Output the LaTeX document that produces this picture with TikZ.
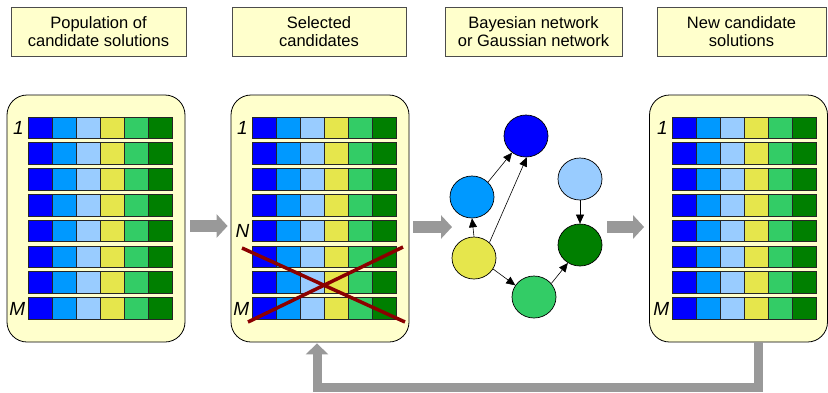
\documentclass[tikz,border=0pt]{standalone}
\usepackage{fontspec}
\setmainfont{Liberation Sans}
\usetikzlibrary{arrows.meta,shapes.geometric}
\definecolor{boxfill}{HTML}{FFFFCC}
\definecolor{cA}{HTML}{0000FF}
\definecolor{cB}{HTML}{0099FF}
\definecolor{cC}{HTML}{99CCFF}
\definecolor{cD}{HTML}{E6E64C}
\definecolor{cE}{HTML}{33CC66}
\definecolor{cF}{HTML}{007F00}
\definecolor{arrowgray}{HTML}{999999}
\definecolor{crossred}{HTML}{8B0000}
\begin{document}
\begin{tikzpicture}[x=1pt,y=-1pt,
  titlebox/.style={draw=black!70, fill=boxfill, line width=0.8pt, minimum height=49pt, inner sep=0pt, align=center, font=\fontsize{16.5}{18.5}\selectfont},
  popbox/.style={draw=black, fill=boxfill, rounded corners=20pt, line width=0.8pt, minimum width=178pt, minimum height=247pt, inner sep=0pt},
  cell/.style={draw=black!85, line width=0.7pt},
  rowlabel/.style={font=\fontsize{19}{19}\selectfont\itshape, anchor=east, inner sep=0pt},
  bignode/.style={ellipse, draw=black, line width=0.7pt, minimum width=44pt, minimum height=42pt, inner sep=0pt},
  bnarrow/.style={-{Triangle[length=9pt,width=8pt]}, line width=0.6pt},
  flow/.style={draw=arrowgray, line width=12pt, -{Triangle[length=11pt,width=23pt]}},
]
\useasboundingbox (0,0) rectangle (828,392);

% titles
\node[titlebox, minimum width=175pt] (t1) at (98.5,31.5) {Population of\\candidate solutions};
\node[titlebox, minimum width=174pt] (t2) at (319,31.5) {Selected\\candidates};
\node[titlebox, minimum width=177pt] (t3) at (533.5,31.5) {Bayesian network\\or Gaussian network};
\node[titlebox, minimum width=169pt] (t4) at (741.5,31.5) {New candidate\\solutions};

% population boxes
\node[popbox] (b1) at (96,218.5) {};
\node[popbox] (b2) at (320,218.5) {};
\node[popbox] (b4) at (738.5,218.5) {};

% cells
\foreach \bx in {28,252,672}{
  \foreach \i in {0,...,7}{
    \foreach \c [count=\j from 0] in {cA,cB,cC,cD,cE,cF}{
      \draw[cell, fill=\c] ({\bx+\j*24},{117+\i*25.8}) rectangle ++(24,21.5);
    }
  }
}

% row labels
\node[rowlabel] (l11) at (24,128) {1};
\node[rowlabel] (l1m) at (25.5,308.5) {M};
\node[rowlabel] (l21) at (248,128) {1};
\node[rowlabel] (l2n) at (249.5,231) {N};
\node[rowlabel] (l2m) at (249.5,308.5) {M};
\node[rowlabel] (l41) at (668,128) {1};
\node[rowlabel] (l4m) at (669.5,308.5) {M};

% red cross
\draw[crossred, line width=3.5pt] (242,248) -- (405,322);
\draw[crossred, line width=3.5pt] (248,322) -- (403,247);

% network
\node[bignode, fill=cA] (n1) at (526,136) {};
\node[bignode, fill=cB] (n2) at (472,197) {};
\node[bignode, fill=cD] (n3) at (474,258) {};
\node[bignode, fill=cE] (n4) at (534,297) {};
\node[bignode, fill=cF] (n5) at (580,245) {};
\node[bignode, fill=cC] (n6) at (580,179) {};

\draw[bnarrow] (n2.43) -- (n1.-130);
\draw[bnarrow] (n3.north) -- (n2.south);
\draw[bnarrow] (n3.45) -- (n1.-88);
\draw[bnarrow] (n3.-30) -- (n4.148);
\draw[bnarrow] (n4.38) -- (n5.-124);
\draw[bnarrow] (n6.south) -- (n5.north);

% flow arrows
\coordinate (a2end) at (452,227);
\coordinate (a3start) at (607,227);
\draw[flow] ([shift={(5,7.5)}]b1.east) -- ([shift={(-3,7.5)}]b2.west);
\draw[flow] ([shift={(4,8.5)}]b2.east) -- (a2end);
\draw[flow] (a3start) -- ([shift={(-5,8.5)}]b4.west);
\draw[draw=arrowgray, line width=9pt, line join=miter, -{Triangle[length=11pt,width=22pt]}]
  ([xshift=20pt]b4.south) -- ++(0,45) -| ([shift={(-3,1)}]b2.south);
\end{tikzpicture}
\end{document}
